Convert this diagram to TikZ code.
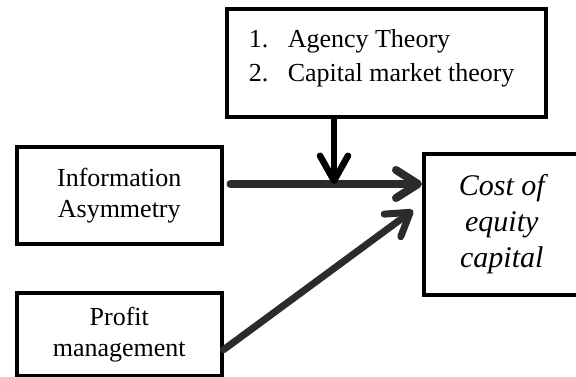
\documentclass[tikz,border=0pt]{standalone}
\usepackage{fontspec}
\setmainfont{Liberation Serif}
\usetikzlibrary{arrows.meta}
\usetikzlibrary{calc}
\definecolor{arrowgray}{HTML}{2B2B2B}
\tikzset{
    box/.style={draw=black, line width=3.5pt, inner sep=0pt, align=center,
        font=\fontsize{26}{31}\selectfont},
    flow/.style={line width=8pt, draw=arrowgray, line cap=round,
        -{Straight Barb[length=22pt,width=28pt,round]}},
}

\begin{document}
\begin{tikzpicture}[x=1pt,y=-1pt]
	\useasboundingbox (0,0) rectangle (576,376);

	\node[box, anchor=north west, minimum width=319pt, minimum height=108pt, align=flush left,
		text width=275pt, font=\fontsize{26}{34}\selectfont] (theory) at (225,7)
		{\makebox[39pt][l]{1.}Agency Theory\\ \makebox[39pt][l]{2.}Capital market theory\rule[-14pt]{0pt}{0pt}};
	\node[box, anchor=north west, minimum width=205pt, minimum height=97pt] (info) at (15,145)
		{Information\\Asymmetry};
	\node[box, anchor=north west, minimum width=205pt, minimum height=83pt] (profit) at (15,291)
		{Profit\\management};
	\node[box, anchor=north west, minimum width=156pt, minimum height=141pt,
		font=\fontsize{30}{36}\selectfont\itshape] (cost) at (422,152)
		{Cost of\\equity\\capital};

	% moderating effect meets the main path here
	\coordinate (m) at (334,184);

	\draw[flow, shorten <=7pt] (info.east |- m) -- (cost.west |- m);
	\draw[flow, line width=6.5pt, draw=black, -{Straight Barb[length=25pt,width=28pt,round]}]
		(theory.south -| m) -- (m);
	\draw[flow, line width=7pt] ([yshift=-15.5pt]profit.east) -- ([shift={(-9pt,14pt)}]cost.west);
\end{tikzpicture}
\end{document}
